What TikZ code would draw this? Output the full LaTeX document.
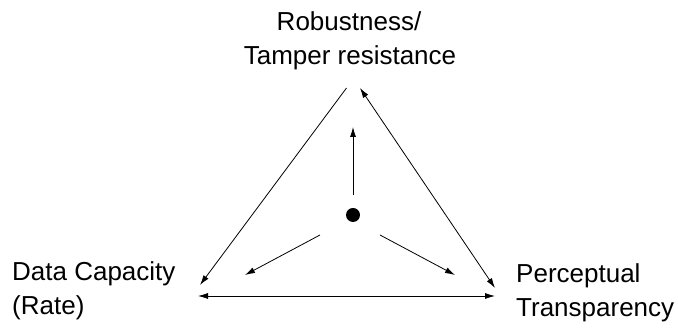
\documentclass[tikz,border=0pt]{standalone}
\usepackage{fontspec}
\setmainfont{Liberation Sans}
\usetikzlibrary{arrows.meta}
\begin{document}
\begin{tikzpicture}[x=1pt,y=1pt,
  lbl/.style={inner sep=0pt, font=\fontsize{26}{34}\selectfont},
  arr/.style={line width=0.8pt, -{Latex[length=10pt,width=6pt]}},
  darr/.style={line width=0.8pt, {Latex[length=10pt,width=6pt]}-{Latex[length=10pt,width=6pt]}}]
\useasboundingbox (0,0) rectangle (678,328);
% labels
\node[lbl, anchor=base] (rob) at (349,297) {Robustness/};
\node[lbl, anchor=base] (tam) at (350,263) {Tamper resistance};
\node[lbl, anchor=base west] (dat) at (12,47) {Data Capacity};
\node[lbl, anchor=base west] (rat) at (12,13) {(Rate)};
\node[lbl, anchor=base west] (per) at (516,45) {Perceptual};
\node[lbl, anchor=base west] (tra) at (516,11) {Transparency};
% centre dot
\node[circle, fill, inner sep=0pt, minimum size=14pt] (c) at (353,113) {};
% triangle endpoints
\coordinate (lt) at (346.5,240);
\coordinate (lb) at (200,43);
\coordinate (rt) at (360,240);
\coordinate (rb) at (495,40);
\coordinate (bl) at (198,32);
\coordinate (br) at (495,32);
\coordinate (u0) at (353,133);
\coordinate (u1) at (353,201);
\coordinate (l0) at (320,93);
\coordinate (l1) at (245,53);
\coordinate (r0) at (380,93);
\coordinate (r1) at (455,53);
\draw[arr] (lt) -- (lb);
\draw[darr] (rt) -- (rb);
\draw[darr] (bl) -- (br);
\draw[arr] (u0) -- (u1);
\draw[arr] (l0) -- (l1);
\draw[arr] (r0) -- (r1);
\end{tikzpicture}
\end{document}
